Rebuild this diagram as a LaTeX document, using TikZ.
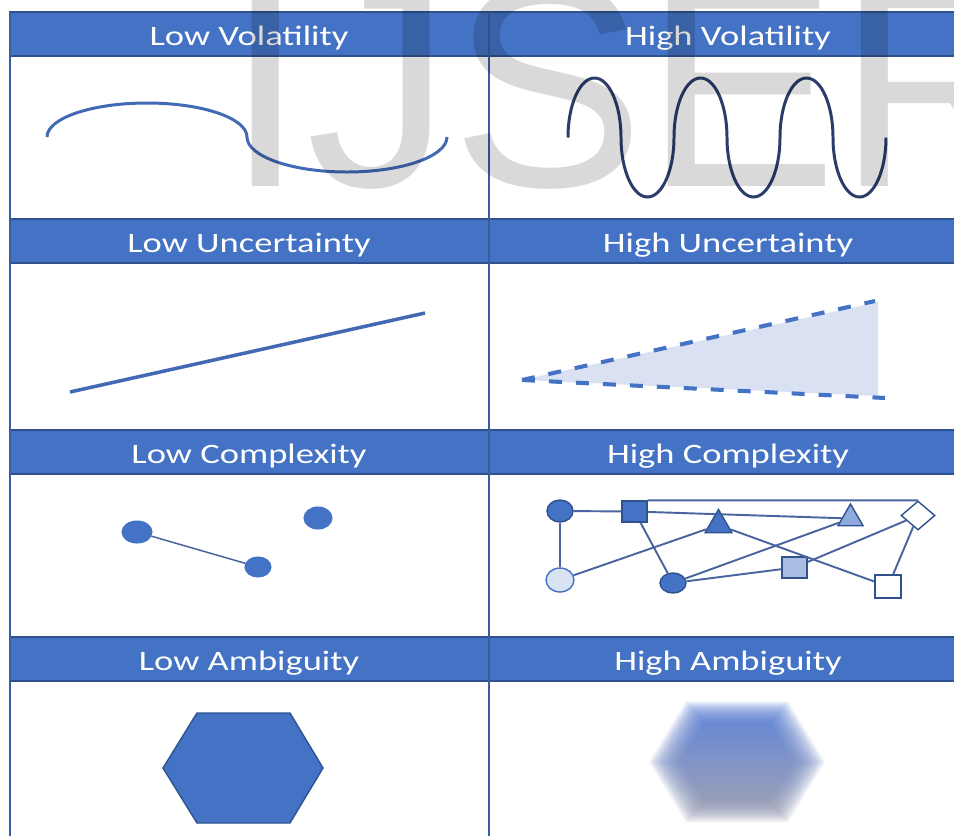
\documentclass[tikz,border=0pt]{standalone}
\usepackage{fontspec}
\setmainfont{Carlito}[FakeStretch=1.3]
\newfontfamily\markfont{Liberation Sans}
\usetikzlibrary{shapes.geometric}
\begin{document}
\begin{tikzpicture}[x=0.02cm,y=-0.02cm,line width=0.6pt,
    head/.style={fill=hdblue,draw=hdline,line width=1pt},
    headtext/.style={text=white,anchor=base,inner sep=0pt,font=\fontsize{16}{18}\selectfont},
    grid/.style={draw=gridline,line width=1.1pt},
    dot/.style={ellipse,inner sep=0pt,fill=hdblue,draw=hdblue},
    darkdot/.style={ellipse,inner sep=0pt,fill=hdblue,draw=hdline,line width=0.8pt},
    box/.style={rectangle,inner sep=0pt,draw=hdline,line width=0.8pt},
    tri/.style={regular polygon,regular polygon sides=3,inner sep=0pt,draw=hdline,line width=0.8pt},
    link/.style={draw=edgeblue,line width=1.1pt}]
  \definecolor{hdblue}{HTML}{4472C4}
  \definecolor{hdline}{HTML}{2F528F}
  \definecolor{gridline}{HTML}{3A5DA0}
  \definecolor{curveblue}{HTML}{4169B4}
  \definecolor{wavedark}{HTML}{2B3C6B}
  \definecolor{conefill}{HTML}{D9E1F2}
  \definecolor{edgeblue}{HTML}{4A64A0}
  \definecolor{midfill}{HTML}{8FAADC}
  \definecolor{lightfill}{HTML}{A9BDE3}
  \definecolor{palefill}{HTML}{DAE3F3}
  \definecolor{blurtop}{HTML}{5078D4}
  \definecolor{blurbot}{HTML}{9095AE}
  \useasboundingbox (0,0) rectangle (954,836);
  \clip (0,0) rectangle (954,836);
  \fill[white] (0,0) rectangle (954,836);
  \foreach \top/\word in {12/Volatility,219/Uncertainty,430/Complexity,637/Ambiguity} {
    \draw[head] (10,\top) rectangle (968,\top+44);
    \node[headtext] (low\word) at (249,\top+33) {Low \word};
    \node[headtext] (high\word) at (728,\top+33) {High \word};
  }
  \draw[grid] (10,12) -- (10,836);
  \draw[grid] (489,12) -- (489,836);

  \draw[curveblue,line width=1.7pt] (47,137)
    arc[start angle=180,end angle=360,x radius=100,y radius=34]
    arc[start angle=180,end angle=0,x radius=100,y radius=35];
  \draw[wavedark,line width=1.7pt] (568,137.5) foreach \k in {1,2,3} {
    arc[start angle=180,end angle=360,x radius=26.5,y radius=59.5]
    arc[start angle=180,end angle=0,x radius=26.5,y radius=59.5]};

  \draw[curveblue,line width=2pt] (70,392) -- (425,313);
  \fill[conefill] (522,380) -- (878,302) -- (878,396) -- cycle;
  \draw[hdblue,line width=2.3pt,dash pattern=on 0.26cm off 0.28cm] (522,380) -- (875,301);
  \draw[hdblue,line width=2.3pt,dash pattern=on 0.26cm off 0.28cm] (522,380) -- (885,398);

  \node[dot,minimum width=0.6cm,minimum height=0.44cm] (lcA) at (137,532) {};
  \node[dot,minimum width=0.52cm,minimum height=0.4cm] (lcB) at (258,567) {};
  \node[dot,minimum width=0.56cm,minimum height=0.44cm] (lcC) at (318,518) {};
  \draw[edgeblue,line width=0.85pt] (lcA) -- (lcB);

  \node[darkdot,minimum width=0.52cm,minimum height=0.44cm] (hcA) at (560,511) {};
  \node[box,fill=hdblue,minimum width=0.5cm,minimum height=0.42cm] (hcB) at (634.5,511.5) {};
  \node[tri,fill=hdblue,minimum size=0.62cm] (hcC) at (718.5,525) {};
  \node[tri,fill=midfill,minimum size=0.58cm] (hcD) at (850.5,518.5) {};
  \node[diamond,inner sep=0pt,draw=hdline,line width=0.8pt,fill=white,
        minimum width=0.68cm,minimum height=0.58cm] (hcE) at (918,515.5) {};
  \node[ellipse,inner sep=0pt,fill=palefill,draw=hdblue,line width=0.8pt,
        minimum width=0.56cm,minimum height=0.48cm] (hcF) at (560,580) {};
  \node[darkdot,minimum width=0.52cm,minimum height=0.4cm] (hcG) at (673,583) {};
  \node[box,fill=lightfill,minimum width=0.5cm,minimum height=0.42cm] (hcH) at (794.5,567.5) {};
  \node[box,fill=white,minimum width=0.52cm,minimum height=0.46cm] (hcI) at (888,586.5) {};
  \draw[link] (hcA) -- (hcB);
  \draw[link] (hcA) -- (hcF);
  \draw[link] (hcB.north east) -- (hcE.north);
  \draw[link] (hcB) -- (hcD);
  \draw[link] (hcB) -- (hcG);
  \draw[link] (hcC) -- (hcF);
  \draw[link] (hcC) -- (hcI);
  \draw[link] (hcD) -- (hcG);
  \draw[link] (hcE) -- (hcH);
  \draw[link] (hcE) -- (hcI);
  \draw[link] (hcG) -- (hcH);

  \draw[fill=hdblue,draw=hdline,line width=0.8pt] (163,768) -- (197,713) -- (290,713)
    -- (323,768) -- (290,823) -- (197,823) -- cycle;
  \foreach \i in {0,...,20} {
    \pgfmathsetmacro{\s}{1.1-\i*0.02}
    \shade[top color=blurtop,bottom color=blurbot,opacity=0.085,shift={(737,762)},scale=\s]
      (-80,0) -- (-46.5,-55) -- (46.5,-55) -- (80,0) -- (46.5,55) -- (-46.5,55) -- cycle;
  }

  \node[anchor=base west,inner sep=0pt,text=black,text opacity=0.15,
        font=\markfont\fontsize{165}{165}\selectfont] (mark) at (225,186) {IJSER};
\end{tikzpicture}
\end{document}
